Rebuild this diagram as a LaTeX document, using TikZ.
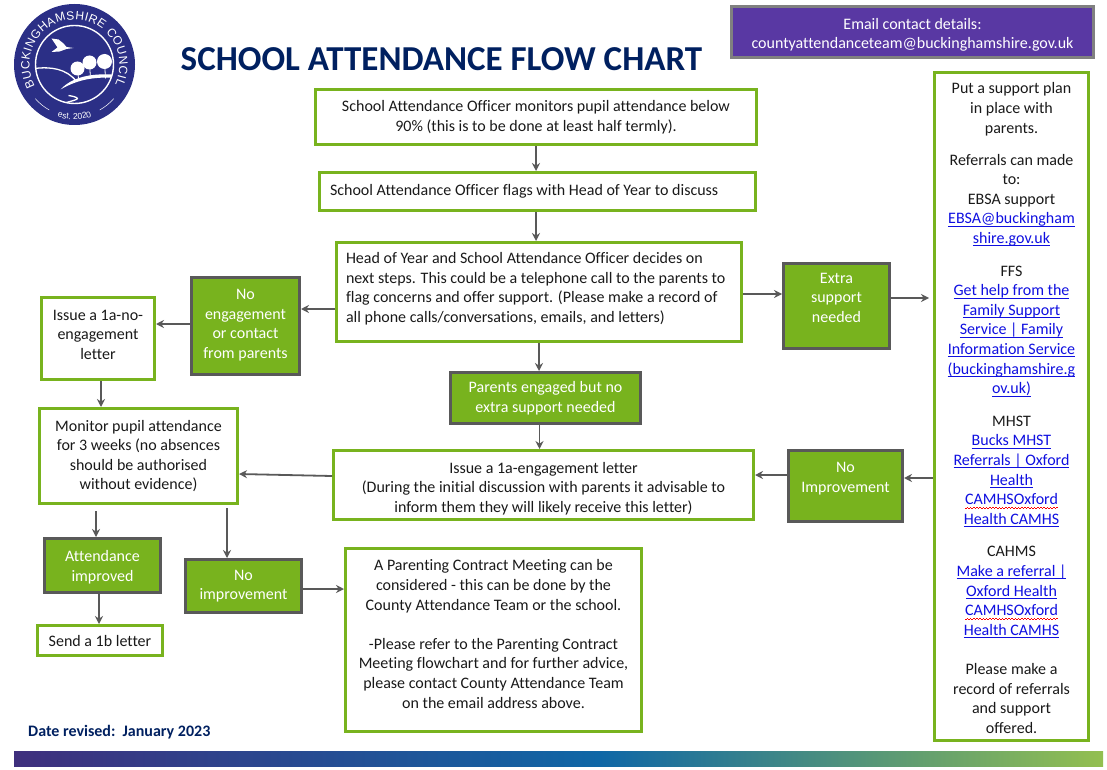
\documentclass[tikz,border=0pt]{standalone}
\usepackage{fontspec}
\setmainfont{Carlito}[Ligatures=NoCommon]
\setsansfont{Liberation Sans}
\usetikzlibrary{arrows.meta, decorations.text}
\definecolor{boxgreen}{HTML}{78B31E}
\definecolor{boxgrey}{HTML}{595959}
\definecolor{headnavy}{HTML}{002060}
\definecolor{crestnavy}{HTML}{2B2F86}
\definecolor{mailpurple}{HTML}{5938A3}
\definecolor{linkblue}{HTML}{0F0FE0}
\definecolor{bandleft}{HTML}{3F2F7D}
\definecolor{bandmid}{HTML}{0F67A6}
\definecolor{bandright}{HTML}{93BF50}
\newcommand{\weblink}[1]{\textcolor{linkblue}{\setbox0=\hbox{#1}\rlap{\rule[-2.6pt]{\wd0}{0.8pt}}\box0}}
\newcommand{\spellink}[1]{\textcolor{linkblue}{\setbox0=\hbox{#1}\rlap{\hbox to \wd0{\color{red}\leaders\hbox{\rule[-3.6pt]{1.6pt}{0.7pt}\rule[-2.6pt]{1.6pt}{0.7pt}}\hfill}}\box0}}
\tikzstyle{whitebox} = [rectangle, draw=boxgreen, line width=3pt, inner sep=0pt, align=center, text=black!90]
\tikzstyle{greenbox} = [rectangle, draw=boxgrey, fill=boxgreen, line width=3pt, inner sep=0pt, align=center, text=white]
\tikzstyle{mailbox} = [rectangle, draw=gray, fill=mailpurple, line width=3pt, inner sep=0pt, align=center, text=white]
\tikzstyle{arrow} = [draw=boxgrey, line width=1.8pt, -{Stealth[length=8pt,width=8pt]}]
\begin{document}
\begin{tikzpicture}[x=1pt, y=-1pt, font=\fontsize{16}{19.6}\selectfont]
\useasboundingbox (0,0) rectangle (1107,770);

% crest
\begin{scope}[shift={(74.5,64.5)}, x=1pt, y=1pt]
\fill [crestnavy] (0,0) circle (60.5);
\draw [white, line width=1.4pt] (0,0) circle (39);
\begin{scope}
\clip (0,0) circle (39);
\fill [white] (-23,26) -- (-16,25) -- (-11,21) -- (-8,17.5) -- (-1,16.5) -- (-8,15.5) -- (-15,13) -- (-23,12.5) -- (-17,17) -- cycle;
\draw [white, line width=1.3pt] (-40,-4) .. controls (-24,-2) and (-8,-4) .. (2,-17);
\fill [white] (-14,-25) .. controls (-2,-12) and (18,-9) .. (37,-10) -- (37,-13) .. controls (20,-13) and (5,-14) .. (-14,-25);
\draw [white, line width=1.3pt] (-6,-31) .. controls (12,-34) and (-2,-36) .. (-8,-38) .. controls (-4,-42) and (-12,-44) .. (-16,-48);
\foreach \tx/\ty/\tr in {3/-4/7, 15/2/7, 30/3/7.5} {
  \draw [white, line width=0.8pt] (\tx,\ty) -- (\tx+1,-14);
  \fill [white] (\tx,\ty) circle (\tr);
}
\end{scope}
\path [decorate, decoration={text along path, text align={fit to path},
  text={|\sffamily\fontsize{12}{13}\selectfont\color{white}|BUCKINGHAMSHIRE COUNCIL}}]
  (209:45) arc (209:-26:45);
\path [decorate, decoration={text along path, text align=center,
  text={|\sffamily\fontsize{8.5}{9}\selectfont\color{white}|est. 2020}}]
  (235:55) arc (235:305:55);
\draw [white, line width=0.5pt] (221:52) arc (221:241:52);
\draw [white, line width=0.5pt] (299:52) arc (299:319:52);
\end{scope}

\node (title) at (441.5,59) [text=headnavy, font=\fontsize{35}{38}\selectfont\bfseries] {SCHOOL ATTENDANCE FLOW CHART};
\node (mail) at (912.5,32) [mailbox, minimum width=362pt, minimum height=51pt] {~\\[-2.6pt]Email contact details:\\countyattendanceteam@buckinghamshire.gov.uk};
\node (revised) at (28,732) [anchor=west, inner sep=0pt, text=headnavy, font=\fontsize{16}{18}\selectfont\bfseries] {Date revised:\ \ January 2023};

\node (officer) at (536,117) [whitebox, minimum width=441pt, minimum height=55pt] {School Attendance Officer monitors pupil attendance below\\90\% (this is to be done at least half termly).};
\node (flags) at (537.5,191.5) [whitebox, minimum height=38pt, inner xsep=10.5pt, text width=415pt, align=flush left] {School Attendance Officer flags with Head of Year to discuss};
\node (decides) at (539,292) [whitebox, minimum height=99pt, inner xsep=9.5pt, text width=386pt, align=flush left] {Head of Year and School Attendance Officer decides on\\next steps. This could be a telephone call to the parents to\\flag concerns and offer support. (Please make a record of\\all phone calls/conversations, emails, and letters)\\[-10.6pt]~};
\node (noengage) at (245.5,326) [greenbox, minimum width=108pt, minimum height=97pt] {No\\engagement\\or contact\\from parents\\[-15.6pt]~};
\node (extra) at (836.5,306) [greenbox, minimum width=106pt, minimum height=85pt] {Extra\\support\\needed\\[-2.6pt]~};
\node (issue) at (98,338.5) [whitebox, minimum width=113pt, minimum height=82pt] {Issue a 1a-no-\\engagement\\letter\\[-11.6pt]~};
\node (parents) at (545.5,398) [greenbox, minimum width=190pt, minimum height=51pt] {Parents engaged but no\\extra support needed};
\node (monitor) at (138.5,456) [whitebox, minimum width=198pt, minimum height=95pt] {Monitor pupil attendance\\for 3 weeks (no absences\\should be authorised\\without evidence)};
\node (letter) at (543.5,485) [whitebox, minimum width=420pt, minimum height=69pt] {~\\[-1.6pt]Issue a 1a-engagement letter\\(During the initial discussion with parents it advisable to\\inform them they will likely receive this letter)};
\node (noimpright) at (845.5,486) [greenbox, minimum width=114pt, minimum height=71pt] {No\\Improvement\\[-2.6pt]~};
\node (improved) at (102.5,565.5) [greenbox, minimum width=116pt, minimum height=54pt] {~\\[-4.6pt]Attendance\\improved};
\node (noimpleft) at (243.5,586) [greenbox, minimum width=116pt, minimum height=53pt] {No\\improvement};
\node (contract) at (493.5,640) [whitebox, minimum width=296pt, minimum height=183pt] {A Parenting Contract Meeting can be\\considered - this can be done by the\\County Attendance Team or the school.\\[19.6pt]-Please refer to the Parenting Contract\\Meeting flowchart and for further advice,\\please contact County Attendance Team\\on the email address above.\\[-7.6pt]~};
\node (sendb) at (100,640.5) [whitebox, minimum width=125pt, minimum height=30pt] {Send a 1b letter};
\node (support) at (1011.5,406.5) [whitebox, minimum width=154pt, minimum height=668pt] {~\\[-5.2pt]Put a support plan\\in place with\\parents.\\[12.5pt]Referrals can made\\to:\\EBSA support\\\weblink{EBSA@buckingham}\\\weblink{shire.gov.uk}\\[13pt]FFS\\\weblink{Get help from the}\\\weblink{Family Support}\\\weblink{Service | Family}\\\weblink{Information Service}\\\weblink{(buckinghamshire.g}\\\weblink{ov.uk)}\\[13pt]MHST\\\weblink{Bucks MHST}\\\weblink{Referrals | Oxford}\\\weblink{Health}\\\spellink{CAMHSOxford}\\\weblink{Health CAMHS}\\[13pt]CAHMS\\\weblink{Make a referral |}\\\weblink{Oxford Health}\\\spellink{CAMHSOxford}\\\weblink{Health CAMHS}\\[19.6pt]Please make a\\record of referrals\\and support\\offered.};

\shade [left color=bandleft, right color=bandmid] (14,751) rectangle (600,766);
\shade [left color=bandmid, right color=bandright] (600,751) rectangle (1103,766);

\draw [arrow] (officer.south) -- (officer.south |- flags.north);
\draw [arrow] ([xshift=-1.5pt]flags.south) -- ([xshift=-1.5pt]flags.south |- decides.north);
\draw [arrow] (decides.south) -- (decides.south |- parents.north);
\draw [arrow] ([xshift=-6pt]parents.south) -- ([xshift=-6pt]parents.south |- letter.north);
\draw [arrow] ([yshift=-17pt]decides.west) -- ([yshift=-17pt]decides.west -| noengage.east);
\draw [arrow] ([yshift=2pt]noengage.west) -- ([yshift=2pt]noengage.west -| issue.east);
\draw [arrow] ([xshift=3pt]issue.south) -- ([xshift=3pt]issue.south |- monitor.north);
\draw [arrow] ([yshift=9pt]letter.west) -- ([yshift=-18pt]monitor.east);
\draw [arrow] ([yshift=11pt]noimpright.west) -- ([yshift=11pt]noimpright.west -| letter.east);
\draw [arrow] ([yshift=8pt]noimpright.east -| support.west) -- ([yshift=8pt]noimpright.east);
\draw [arrow] ([yshift=12pt]extra.west -| decides.east) -- ([yshift=12pt]extra.west);
\draw [arrow, shorten >=4pt] ([yshift=8pt]extra.east) -- ([yshift=8pt]extra.east -| support.west);
\draw [arrow, shorten <=6pt] ([xshift=-6.5pt]improved.north |- monitor.south) -- ([xshift=-6.5pt]improved.north);
\draw [arrow, shorten <=3pt] ([xshift=-16.5pt]noimpleft.north |- monitor.south) -- ([xshift=-16.5pt]noimpleft.north);
\draw [arrow] ([xshift=-3.5pt]improved.south) -- ([xshift=-3.5pt]improved.south |- sendb.north);
\draw [arrow] ([yshift=-3pt]noimpleft.east) -- ([yshift=-3pt]noimpleft.east -| contract.west);
\end{tikzpicture}
\end{document}
